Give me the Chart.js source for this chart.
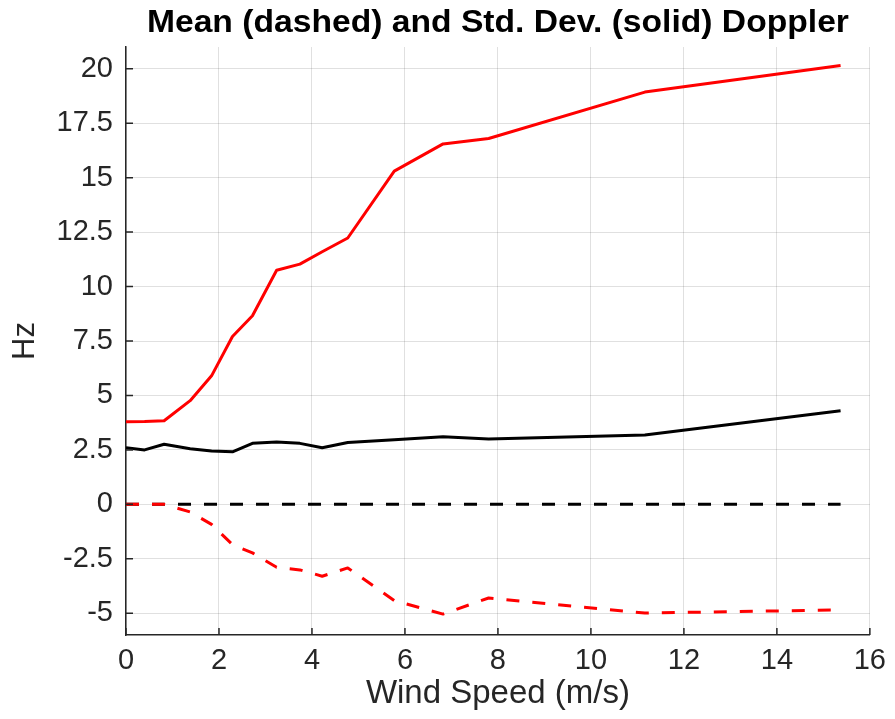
<!DOCTYPE html>
<html><head><meta charset="utf-8">
<script src="https://cdn.jsdelivr.net/npm/chart.js@4"></script>
<style>html,body{margin:0;padding:0;background:#fff}#wrap{width:895px;height:719px}</style>
</head><body><div id="wrap"><canvas id="c" width="895" height="719"></canvas></div>
<script>
const windSpeed = [0, 0.4, 0.82, 1.38, 1.84, 2.29, 2.72, 3.24, 3.74, 4.22, 4.77, 5.77, 6.82, 7.8, 11.16, 15.37];
const redStd    = [3.79, 3.8, 3.84, 4.76, 5.9, 7.71, 8.66, 10.75, 11.03, 11.6, 12.23, 15.3, 16.55, 16.8, 18.93, 20.15];
const blackStd  = [2.6, 2.5, 2.76, 2.55, 2.45, 2.41, 2.8, 2.86, 2.8, 2.6, 2.84, 2.97, 3.1, 3.0, 3.18, 4.3];
const redMean   = [0, 0, 0, -0.35, -0.92, -1.85, -2.23, -2.89, -3.01, -3.3, -2.92, -4.42, -5.04, -4.3, -4.99, -4.85];
const blackMean = [0, 0, 0, 0, 0, 0, 0, 0, 0, 0, 0, 0, 0, 0, 0, 0];
const yTicks = [-5, -2.5, 0, 2.5, 5, 7.5, 10, 12.5, 15, 17.5, 20];
const xTicks = [0, 2, 4, 6, 8, 10, 12, 14, 16];
const titleText = 'Mean (dashed) and Std. Dev. (solid) Doppler';

const pts = ys => windSpeed.map((x, i) => ({x, y: ys[i]}));
const FONT = '"Liberation Sans", Arial, Helvetica, sans-serif';
const AXC = '#262626';

const innerTicks = {
  id: 'innerTicks',
  afterDraw(chart) {
    const {ctx, chartArea: a, scales: {x, y}} = chart;
    ctx.save();
    ctx.strokeStyle = AXC; ctx.lineWidth = 1.5;
    ctx.beginPath();
    xTicks.forEach(v => { const px = x.getPixelForValue(v); ctx.moveTo(px, a.bottom); ctx.lineTo(px, a.bottom - 7); });
    yTicks.forEach(v => { const py = y.getPixelForValue(v); ctx.moveTo(a.left, py); ctx.lineTo(a.left + 7, py); });
    ctx.stroke();
    // title, centred over the axes
    ctx.font = 'bold 31px ' + FONT;
    ctx.fillStyle = '#000';
    ctx.textAlign = 'center';
    ctx.textBaseline = 'middle';
    const w = ctx.measureText(titleText).width;
    const sx = 702 / w;
    ctx.translate((a.left + a.right) / 2, 23);
    ctx.scale(sx, 1);
    ctx.fillText(titleText, 0, 0);
    ctx.restore();
  }
};

new Chart(document.getElementById('c'), {
  type: 'line',
  data: {
    datasets: [
      {data: pts(redStd), borderColor: '#ff0000', borderWidth: 3, order: 0},
      {data: pts(blackStd), borderColor: '#000000', borderWidth: 3, order: 0},
      {data: pts(redMean), borderColor: '#ff0000', borderWidth: 3, borderDash: [13, 13], order: 1},
      {data: pts(blackMean), borderColor: '#000000', borderWidth: 3, borderDash: [13, 13], order: 2}
    ]
  },
  options: {
    responsive: false,
    animation: false,
    elements: {point: {radius: 0}, line: {tension: 0, borderCapStyle: 'butt', borderJoinStyle: 'round'}},
    layout: {padding: {left: 0, right: 25, top: 47, bottom: 0}},
    plugins: {
      legend: {display: false},
      tooltip: {enabled: false},
      title: {display: false}
    },
    scales: {
      x: {
        type: 'linear', min: 0, max: 16,
        afterBuildTicks: s => { s.ticks = xTicks.map(v => ({value: v})); },
        afterFit: s => { s.height = 84; },
        grid: {color: 'rgba(38,38,38,0.14)', lineWidth: 1, drawTicks: false},
        border: {display: true, color: AXC, width: 1.5},
        ticks: {color: AXC, font: {family: FONT, size: 29}, padding: 9, maxRotation: 0, callback: v => String(v)},
        title: {display: true, text: 'Wind Speed (m/s)', color: AXC, font: {family: FONT, size: 33}, padding: {top: 0, bottom: 5}}
      },
      y: {
        type: 'linear', min: -6, max: 21,
        afterBuildTicks: s => { s.ticks = yTicks.map(v => ({value: v})); },
        afterFit: s => { s.width = 126; },
        grid: {color: 'rgba(38,38,38,0.14)', lineWidth: 1, drawTicks: false},
        border: {display: true, color: AXC, width: 1.5},
        ticks: {color: AXC, font: {family: FONT, size: 29}, padding: 13, callback: v => String(v)},
        title: {display: true, text: 'Hz', color: AXC, font: {family: FONT, size: 31}, padding: {top: 7, bottom: 0}}
      }
    }
  },
  plugins: [innerTicks]
});
</script>
</body></html>
